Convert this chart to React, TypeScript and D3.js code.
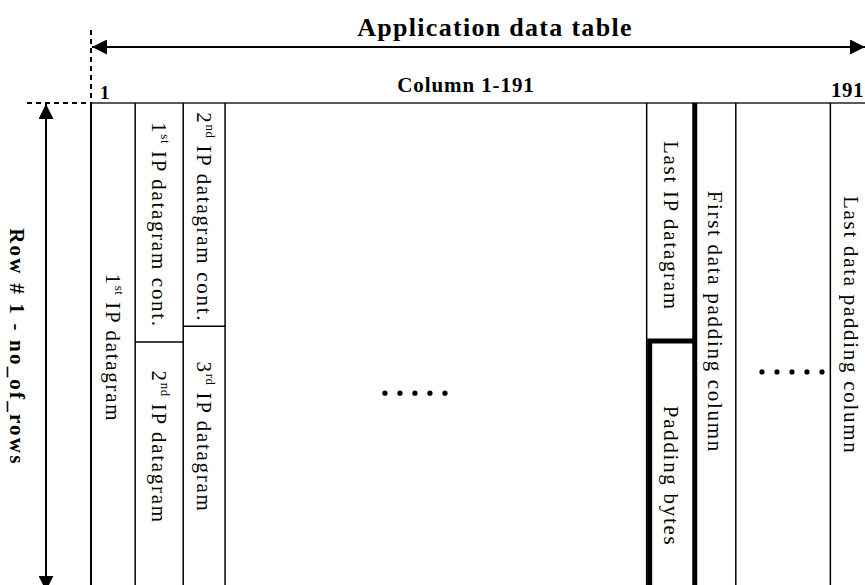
import React, { useRef, useEffect } from "react";
import * as d3 from "d3";

// column boundaries of the table, in table-width units (0 = column 1, 100 = column 191)
const columnEdges = [0, 5.7, 11.9, 17.3, 71.7, 77.9, 83.2, 95.4, 100.7];

// cell labels: which column, where along the rows (0..100) the label is centred
const cellLabels = [
  { col: 0, at: 50.8, pre: "1", sup: "st", post: " IP datagram" },
  { col: 1, at: 25.3, pre: "1", sup: "st", post: " IP datagram cont." },
  { col: 1, at: 71.4, pre: "2", sup: "nd", post: " IP datagram" },
  { col: 2, at: 23.7, pre: "2", sup: "nd", post: " IP datagram cont." },
  { col: 2, at: 69.3, pre: "3", sup: "rd", post: " IP datagram" },
  { col: 4, at: 25.5, pre: "", sup: "", post: "Last IP datagram" },
  { col: 4, at: 77.4, pre: "", sup: "", post: "Padding bytes" },
  { col: 5, at: 45.4, pre: "", sup: "", post: "First data padding column" },
  { col: 7, at: 46.1, pre: "", sup: "", post: "Last data padding column" },
];

// where an IP datagram ends inside a column
const cellSplits = [
  { col: 1, at: 49.6 },
  { col: 2, at: 46.3 },
];
const paddingBlock = { col: 4, at: 49.4 };

// the "....." fillers
const ellipses = [
  { x: 41.8, y: 60.2 },
  { x: 90.45, y: 55.8 },
];
const dotsPerEllipsis = 5;

const titleText = "Application data table";
const columnText = "Column 1-191";
const firstColText = "1";
const lastColText = "191";
const rowText = "Row # 1 - no_of_rows";

const W = 865;
const H = 585;
const FONT = "'Liberation Serif', 'Times New Roman', serif";

const App = () => {
  const ref = useRef(null);

  useEffect(() => {
    d3.select(ref.current).selectAll("*").remove();
    const svg = d3.select(ref.current).attr("width", W).attr("height", H);

    const x = d3.scaleLinear().domain([0, 100]).range([91, 866]);
    const y = d3.scaleLinear().domain([0, 100]).range([103, 585]);
    const bottom = y(102);

    const defs = svg.append("defs");
    defs
      .append("marker")
      .attr("id", "head")
      .attr("viewBox", "0 0 10 10")
      .attr("refX", 10)
      .attr("refY", 5)
      .attr("markerWidth", 15)
      .attr("markerHeight", 15)
      .attr("markerUnits", "userSpaceOnUse")
      .attr("orient", "auto-start-reverse")
      .append("path")
      .attr("d", "M0,0 L10,5 L0,10 Z")
      .attr("fill", "#000");

    // dashed guides
    svg
      .append("line")
      .attr("x1", x(0))
      .attr("x2", x(0))
      .attr("y1", 30)
      .attr("y2", y(0))
      .attr("stroke", "#000")
      .attr("stroke-width", 2)
      .attr("stroke-dasharray", "5,4");
    svg
      .append("line")
      .attr("x1", 27)
      .attr("x2", x(0))
      .attr("y1", y(0))
      .attr("y2", y(0))
      .attr("stroke", "#000")
      .attr("stroke-width", 2)
      .attr("stroke-dasharray", "5,4");

    // width arrow
    svg
      .append("line")
      .attr("x1", x(0) + 1)
      .attr("x2", 865)
      .attr("y1", 47)
      .attr("y2", 47)
      .attr("stroke", "#000")
      .attr("stroke-width", 2)
      .attr("marker-start", "url(#head)")
      .attr("marker-end", "url(#head)");

    // height arrow
    svg
      .append("line")
      .attr("x1", 46)
      .attr("x2", 46)
      .attr("y1", y(0) + 1)
      .attr("y2", y(101.2))
      .attr("stroke", "#000")
      .attr("stroke-width", 2)
      .attr("marker-start", "url(#head)")
      .attr("marker-end", "url(#head)");

    // top edge of table
    svg
      .append("line")
      .attr("x1", x(0))
      .attr("x2", W)
      .attr("y1", y(0))
      .attr("y2", y(0))
      .attr("stroke", "#222")
      .attr("stroke-width", 1.5);

    // column boundaries
    svg
      .selectAll("line.col")
      .data(columnEdges)
      .enter()
      .append("line")
      .attr("class", "col")
      .attr("x1", (d) => x(d))
      .attr("x2", (d) => x(d))
      .attr("y1", y(0))
      .attr("y2", bottom)
      .attr("stroke", "#000")
      .attr("stroke-width", (d, i) => (i === 5 ? 5 : i === 0 ? 2 : 1.5));

    // datagram splits inside columns
    svg
      .selectAll("line.split")
      .data(cellSplits)
      .enter()
      .append("line")
      .attr("class", "split")
      .attr("x1", (d) => x(columnEdges[d.col]))
      .attr("x2", (d) => x(columnEdges[d.col + 1]))
      .attr("y1", (d) => y(d.at))
      .attr("y2", (d) => y(d.at))
      .attr("stroke", "#000")
      .attr("stroke-width", 1.5);

    // padding block, thick outline
    const pl = x(columnEdges[paddingBlock.col]) + 3;
    const pr = x(columnEdges[paddingBlock.col + 1]);
    const pt = y(paddingBlock.at);
    svg
      .append("path")
      .attr("d", `M${pl},${bottom} L${pl},${pt} L${pr},${pt}`)
      .attr("fill", "none")
      .attr("stroke", "#000")
      .attr("stroke-width", 5);

    // cell labels, rotated
    const labels = svg
      .selectAll("g.lab")
      .data(cellLabels)
      .enter()
      .append("g")
      .attr("class", "lab")
      .attr("transform", (d) => {
        const cx = (x(columnEdges[d.col]) + x(columnEdges[d.col + 1])) / 2;
        return `translate(${cx},${y(d.at)}) rotate(90)`;
      });
    const t = labels
      .append("text")
      .attr("text-anchor", "middle")
      .attr("dominant-baseline", "central")
      .attr("font-family", FONT)
      .attr("font-size", 21)
      .attr("letter-spacing", 1.7)
      .attr("fill", "#000");
    t.filter((d) => d.pre !== "").append("tspan").text((d) => d.pre);
    t.filter((d) => d.sup !== "")
      .append("tspan")
      .attr("font-size", 13)
      .attr("letter-spacing", 0.5)
      .attr("dy", -7)
      .text((d) => d.sup);
    t.append("tspan")
      .attr("dy", (d) => (d.sup !== "" ? 7 : 0))
      .text((d) => d.post);

    // ellipsis dots
    ellipses.forEach((e) => {
      const cx = x(e.x);
      const offs = d3.range(dotsPerEllipsis).map((i) => (i - (dotsPerEllipsis - 1) / 2) * 15);
      svg
        .append("g")
        .selectAll("circle")
        .data(offs)
        .enter()
        .append("circle")
        .attr("cx", (o) => cx + o)
        .attr("cy", y(e.y))
        .attr("r", 2.6)
        .attr("fill", "#000");
    });

    // headings
    svg
      .append("text")
      .attr("x", 495)
      .attr("y", 36)
      .attr("text-anchor", "middle")
      .attr("font-family", FONT)
      .attr("font-weight", "bold")
      .attr("font-size", 26)
      .attr("letter-spacing", 1.3)
      .text(titleText);
    svg
      .append("text")
      .attr("x", 466)
      .attr("y", 92)
      .attr("text-anchor", "middle")
      .attr("font-family", FONT)
      .attr("font-weight", "bold")
      .attr("font-size", 21)
      .attr("letter-spacing", 0.9)
      .text(columnText);
    svg
      .append("text")
      .attr("x", x(0) + 9)
      .attr("y", 99)
      .attr("font-family", FONT)
      .attr("font-weight", "bold")
      .attr("font-size", 19)
      .text(firstColText);
    svg
      .append("text")
      .attr("x", 831)
      .attr("y", 97)
      .attr("font-family", FONT)
      .attr("font-weight", "bold")
      .attr("font-size", 21)
      .attr("letter-spacing", 0.5)
      .text(lastColText);

    svg
      .append("g")
      .attr("transform", `translate(17,${y(50.6)}) rotate(90)`)
      .append("text")
      .attr("text-anchor", "middle")
      .attr("dominant-baseline", "central")
      .attr("font-family", FONT)
      .attr("font-weight", "bold")
      .attr("font-size", 21)
      .attr("letter-spacing", 2.2)
      .text(rowText);
  }, []);

  return (
    <svg
      ref={ref}
      style={{ position: "absolute", left: 0, top: 0, background: "#fff" }}
    ></svg>
  );
};

export default App;
